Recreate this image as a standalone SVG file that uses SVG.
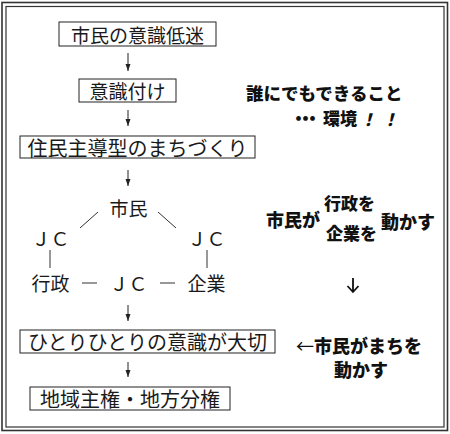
<svg xmlns="http://www.w3.org/2000/svg" width="450" height="434" viewBox="0 0 450 434">
<style>
.frame{fill:none;stroke:#333;}
.box{fill:#fff;stroke:#222;stroke-width:1;}
.t{font-family:"Noto Sans CJK JP","Noto Sans",sans-serif;font-size:20px;fill:#1a1a1a;text-anchor:middle;dominant-baseline:central;}
.tr{font-family:"Noto Sans CJK JP","Noto Sans",sans-serif;font-size:19px;fill:#1a1a1a;text-anchor:middle;dominant-baseline:central;}
.b{font-family:"Noto Sans CJK JP","Noto Sans",sans-serif;font-weight:900;font-size:18px;fill:#111;dominant-baseline:central;}
.ln{stroke:#333;stroke-width:1;fill:none;}
.ar{stroke:#222;stroke-width:1;fill:none;marker-end:url(#ah);}
</style>
<defs>
<marker id="ah" markerUnits="userSpaceOnUse" markerWidth="8" markerHeight="8" viewBox="0 0 8 8" refX="7" refY="4" orient="auto">
<path d="M0,1.5 L7,4 L0,6.5 Z" fill="#222"/>
</marker>
</defs>
<rect width="450" height="434" fill="#fff"/>
<rect class="frame" x="2" y="2.5" width="445.5" height="428" stroke-width="1.6"/>
<rect class="frame" x="6" y="6.5" width="438" height="420.5" stroke-width="1.2"/>

<g id="connectors">
<line class="ar" x1="128" y1="53" x2="128" y2="71"/>
<line class="ar" x1="128" y1="110" x2="128" y2="126"/>
<line class="ar" x1="128" y1="170" x2="128" y2="186"/>
<line class="ar" x1="128" y1="305" x2="128" y2="321"/>
<line class="ar" x1="128" y1="362" x2="128" y2="377"/>
<line class="ln" x1="98" y1="212" x2="80" y2="228"/>
<line class="ln" x1="158" y1="212" x2="176" y2="228"/>
<line class="ln" x1="50" y1="250" x2="50" y2="268"/>
<line class="ln" x1="207" y1="250" x2="207" y2="268"/>
<line class="ln" x1="82" y1="283" x2="97" y2="283"/>
<line class="ln" x1="160" y1="283" x2="175" y2="283"/>
<path d="M353,278 L353,292 M347.5,286 L353,292 L358.5,286" stroke="#111" stroke-width="1.8" fill="none"/>
</g>

<g id="n1"><rect class="box" x="59" y="22" width="157" height="24"/><text class="t" x="137.5" y="34" style="font-size:19px">市民の意識低迷</text></g>
<g id="n2"><rect class="box" x="79" y="79" width="97" height="23"/><text class="t" x="127.5" y="90.5" style="font-size:19px">意識付け</text></g>
<g id="n3"><rect class="box" x="20" y="136" width="235" height="22"/><text class="t" x="137.5" y="147">住民主導型のまちづくり</text></g>
<g id="n4"><text class="tr" x="128.5" y="207.5">市民</text></g>
<g id="n5"><text class="tr" x="50.5" y="237">ＪＣ</text></g>
<g id="n6"><text class="tr" x="206.5" y="237">ＪＣ</text></g>
<g id="n7"><text class="tr" x="50.5" y="282.5">行政</text></g>
<g id="n8"><text class="tr" x="128.5" y="282.5">ＪＣ</text></g>
<g id="n9"><text class="tr" x="206.5" y="282.5">企業</text></g>
<g id="n10"><rect class="box" x="20" y="330" width="255" height="23"/><text class="t" x="147.5" y="341.5">ひとりひとりの意識が大切</text></g>
<g id="n11"><rect class="box" x="30" y="387" width="200" height="23"/><text class="t" x="130" y="398.5">地域主権・地方分権</text></g>

<g id="note1">
<text class="b" x="246" y="92" style="font-size:17.5px">誰にでもできること</text>
<text class="b" x="290 297 304 323 340 359.5 381.5" y="117.5" style="font-size:17px">・・・環境<tspan style="font-style:italic">！！</tspan></text>
</g>
<g id="note2">
<text class="b" x="266" y="219">市民が</text>
<text class="b" x="324" y="202" style="font-size:17px">行政を</text>
<text class="b" x="326" y="232.5" style="font-size:17px">企業を</text>
<text class="b" x="381" y="221">動かす</text>
</g>
<g id="note3">
<text class="b" x="296" y="345"><tspan style="font-weight:400">←</tspan>市民がまちを</text>
<text class="b" x="334" y="369">動かす</text>
</g>
</svg>
